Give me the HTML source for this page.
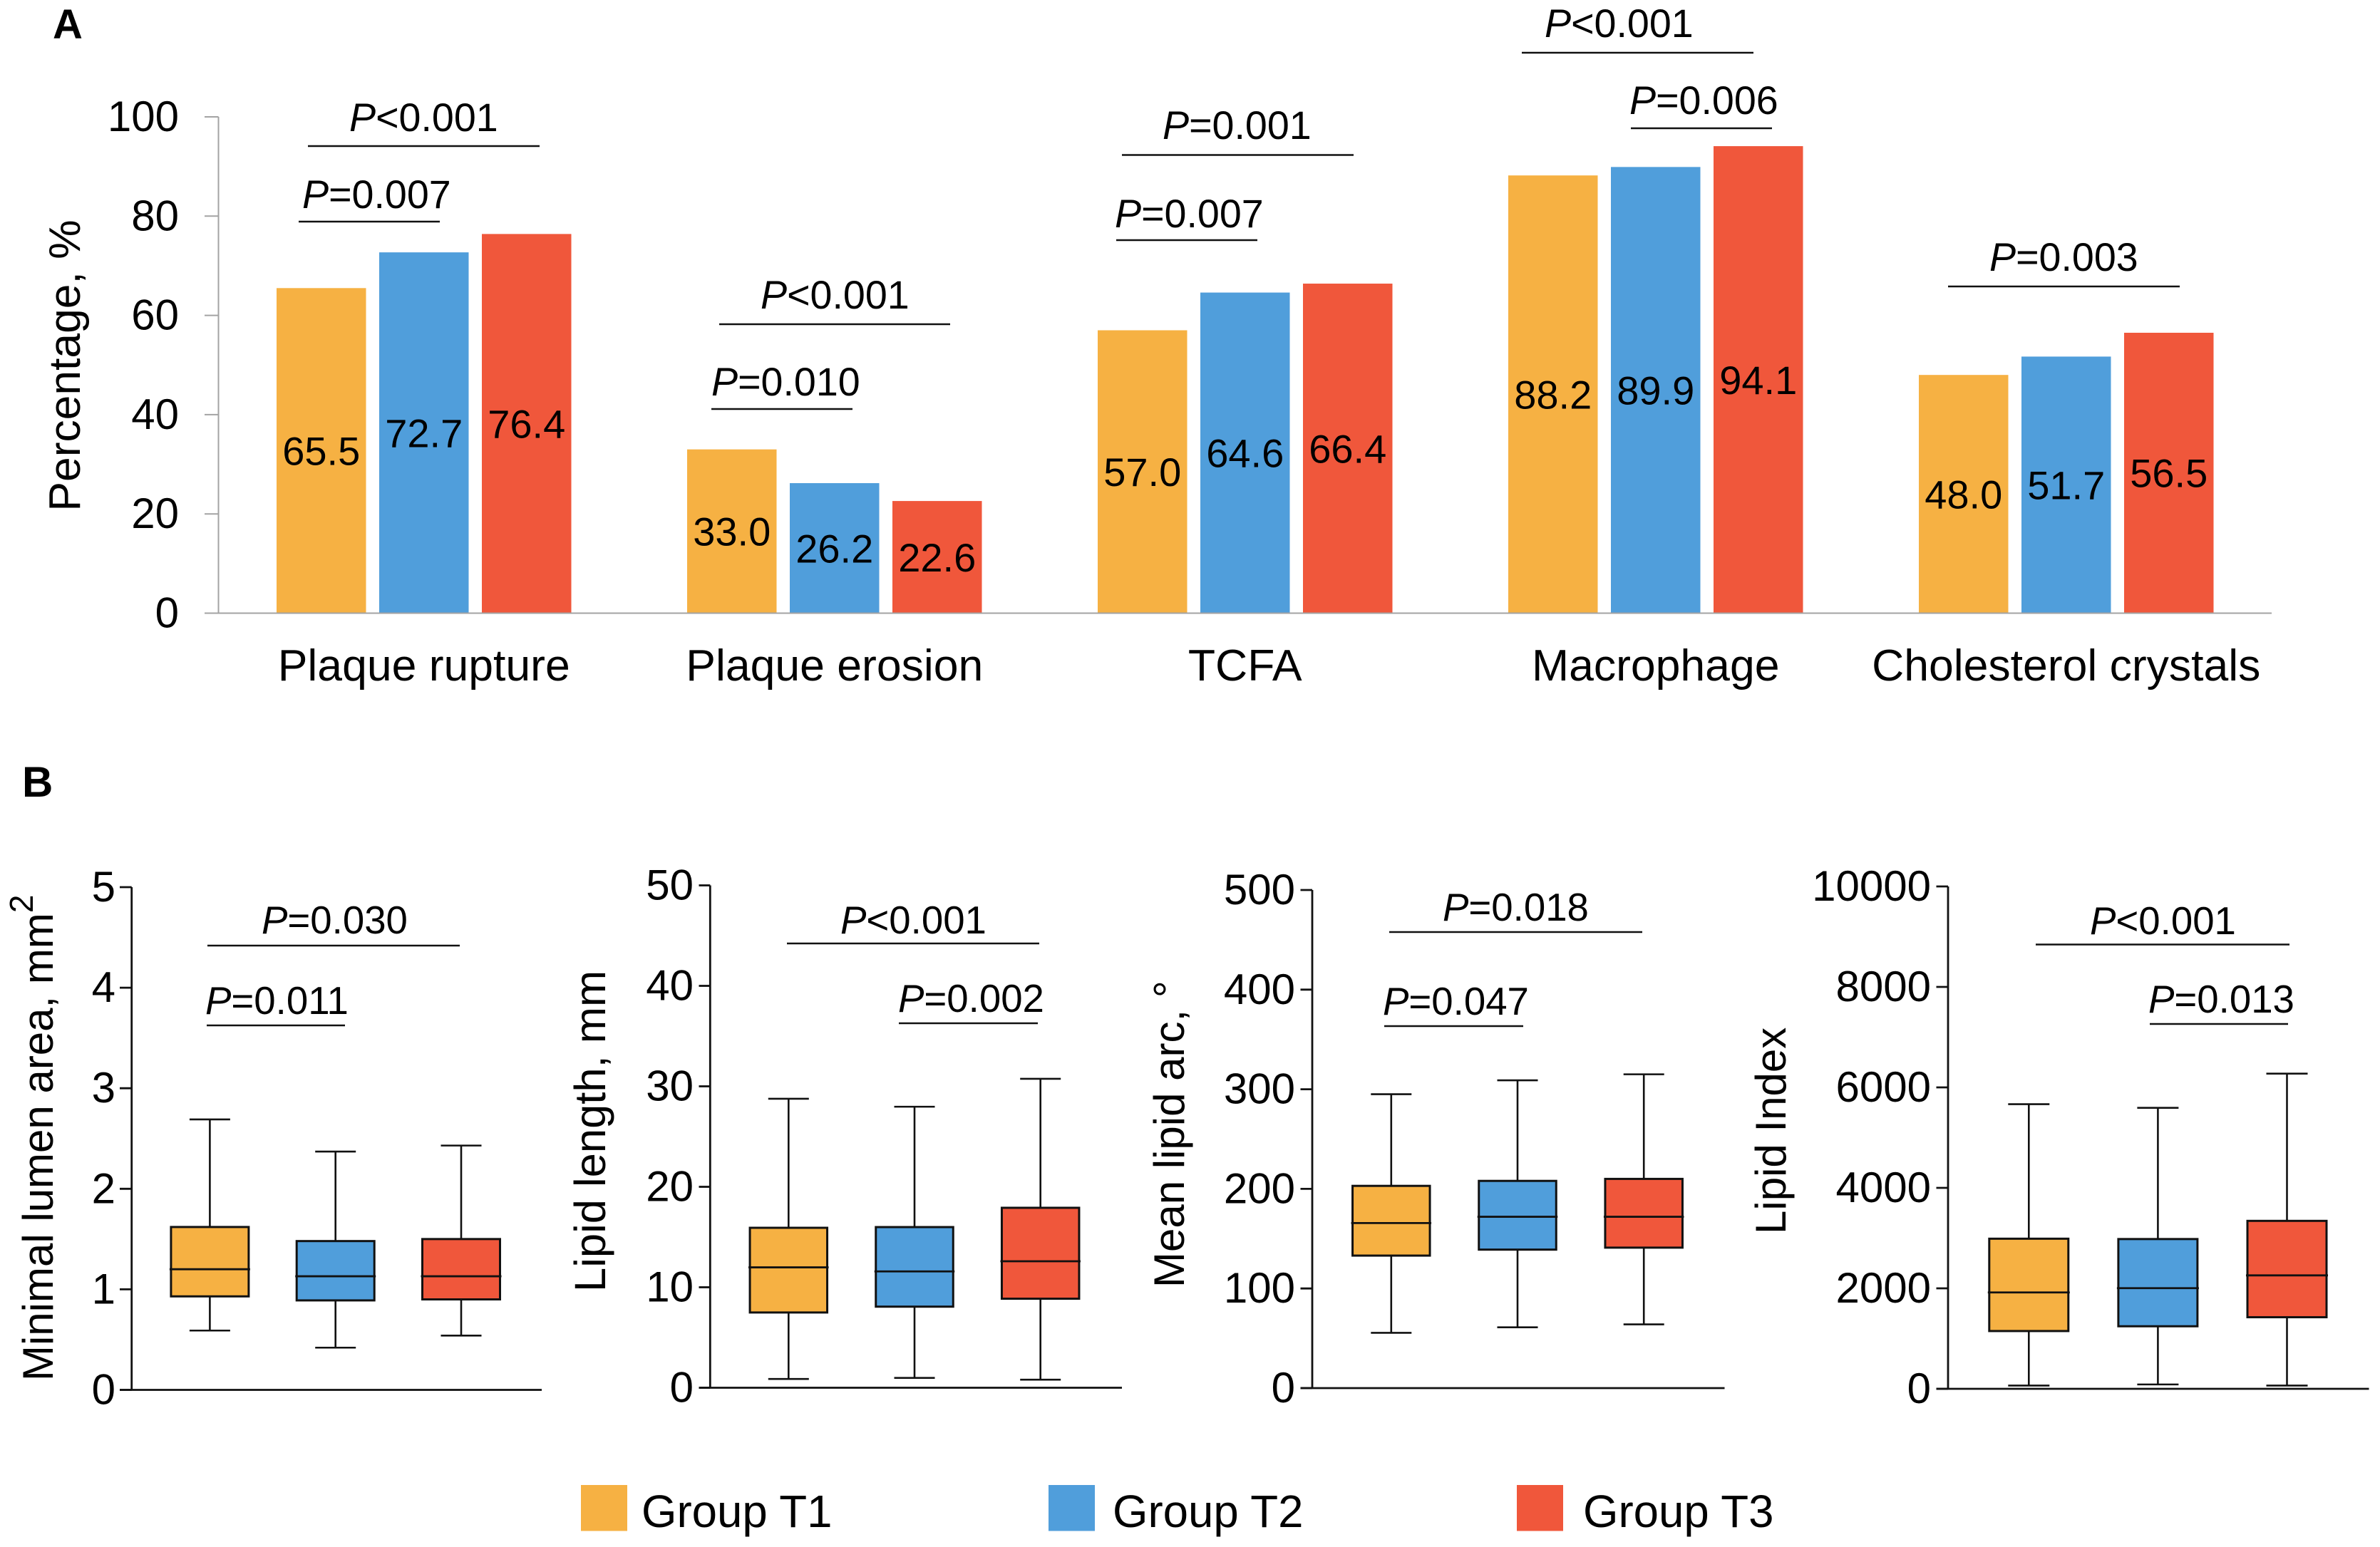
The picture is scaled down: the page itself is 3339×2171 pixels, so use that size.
<!DOCTYPE html>
<html lang="en">
<head>
<meta charset="utf-8">
<title>Plaque characteristics by group</title>
<style>
html,body{margin:0;padding:0;background:#fff;}
svg{display:block;}
text{font-family:"Liberation Sans",Arial,sans-serif;fill:#000;}
.p{font-size:55.6px;}
.pb{font-size:54.6px;}
.pl{font-style:italic;}
.t{font-size:60px;}
.lg{font-size:63.6px;}
.note{stroke:#111;stroke-width:2.4;}
</style>
</head>
<body>
<svg id="fig" xmlns="http://www.w3.org/2000/svg" width="3339" height="2171" viewBox="0 0 3339 2171">
  <rect x="0" y="0" width="3339" height="2171" fill="#fff"/>
  <text x="74" y="54" font-size="58" font-weight="700">A</text>
  <text x="31" y="1118" font-size="60" font-weight="700">B</text>

  <g id="panelA"></g>
  <g id="panelB1"></g>
  <g id="panelB2"></g>
  <g id="panelB3"></g>
  <g id="panelB4"></g>

  <text style="font-size:62.4px" transform="translate(112,513) rotate(-90)" text-anchor="middle">Percentage, %</text>
  <text class="t" transform="translate(74,1938) rotate(-90)">Minimal lumen area, mm<tspan font-size="46" dy="-28">2</tspan></text>
  <text style="font-size:61.5px" transform="translate(849,1813) rotate(-90)">Lipid length, mm</text>
  <text class="t" transform="translate(1661,1807) rotate(-90)">Mean lipid arc, °</text>
  <text class="t" transform="translate(2505,1732) rotate(-90)">Lipid Index</text>

  <g>
    <line class="note" x1="432" x2="757" y1="205" y2="205"/>
    <text class="p" x="490" y="184"><tspan class="pl">P</tspan>&lt;0.001</text>
    <line class="note" x1="419" x2="617" y1="311" y2="311"/>
    <text class="p" x="424" y="292"><tspan class="pl">P</tspan>=0.007</text>
    <line class="note" x1="1009" x2="1333" y1="455" y2="455"/>
    <text class="p" x="1067" y="433"><tspan class="pl">P</tspan>&lt;0.001</text>
    <line class="note" x1="998" x2="1196" y1="574" y2="574"/>
    <text class="p" x="998" y="555"><tspan class="pl">P</tspan>=0.010</text>
    <line class="note" x1="1574" x2="1899" y1="217.5" y2="217.5"/>
    <text class="p" x="1631" y="195"><tspan class="pl">P</tspan>=0.001</text>
    <line class="note" x1="1566" x2="1764" y1="337" y2="337"/>
    <text class="p" x="1564" y="319"><tspan class="pl">P</tspan>=0.007</text>
    <line class="note" x1="2135" x2="2460" y1="74" y2="74"/>
    <text class="p" x="2167" y="52"><tspan class="pl">P</tspan>&lt;0.001</text>
    <line class="note" x1="2288" x2="2486" y1="180" y2="180"/>
    <text class="p" x="2286" y="160"><tspan class="pl">P</tspan>=0.006</text>
    <line class="note" x1="2733" x2="3058" y1="402" y2="402"/>
    <text class="p" x="2791" y="380"><tspan class="pl">P</tspan>=0.003</text>
  </g>

  <g>
    <line class="note" x1="291" x2="645" y1="1327" y2="1327"/>
    <text class="pb" x="367" y="1310"><tspan class="pl">P</tspan>=0.030</text>
    <line class="note" x1="290" x2="484" y1="1439" y2="1439"/>
    <text class="pb" x="288" y="1423"><tspan class="pl">P</tspan>=0.011</text>
    <line class="note" x1="1104" x2="1458" y1="1324" y2="1324"/>
    <text class="pb" x="1179" y="1310"><tspan class="pl">P</tspan>&lt;0.001</text>
    <line class="note" x1="1261" x2="1456" y1="1436" y2="1436"/>
    <text class="pb" x="1260" y="1420"><tspan class="pl">P</tspan>=0.002</text>
    <line class="note" x1="1949" x2="2304" y1="1308" y2="1308"/>
    <text class="pb" x="2024" y="1292"><tspan class="pl">P</tspan>=0.018</text>
    <line class="note" x1="1942" x2="2137" y1="1440" y2="1440"/>
    <text class="pb" x="1940" y="1424"><tspan class="pl">P</tspan>=0.047</text>
    <line class="note" x1="2856" x2="3212" y1="1325.5" y2="1325.5"/>
    <text class="pb" x="2932" y="1311"><tspan class="pl">P</tspan>&lt;0.001</text>
    <line class="note" x1="3016" x2="3210" y1="1437" y2="1437"/>
    <text class="pb" x="3014" y="1421"><tspan class="pl">P</tspan>=0.013</text>
  </g>

  <g>
    <rect x="815" y="2084" width="65" height="64.5" fill="#F6B143"/>
    <text class="lg" x="900" y="2143">Group T1</text>
    <rect x="1471" y="2084" width="65" height="64.5" fill="#509EDB"/>
    <text class="lg" x="1561" y="2143">Group T2</text>
    <rect x="2128" y="2084" width="65" height="64.5" fill="#F0573B"/>
    <text class="lg" x="2221" y="2143">Group T3</text>
  </g>
</svg>

<script>
// Panel A data
const categories = ['Plaque rupture', 'Plaque erosion', 'TCFA', 'Macrophage', 'Cholesterol crystals'];
const groupT1Values = [65.5, 33.0, 57.0, 88.2, 48.0];
const groupT2Values = [72.7, 26.2, 64.6, 89.9, 51.7];
const groupT3Values = [76.4, 22.6, 66.4, 94.1, 56.5];
const percentTicks = [0, 20, 40, 60, 80, 100];

// Panel B data: each box is [low whisker, Q1, median, Q3, high whisker]
const lumenT1 = [0.59, 0.93, 1.20, 1.62, 2.69];
const lumenT2 = [0.42, 0.89, 1.13, 1.48, 2.37];
const lumenT3 = [0.54, 0.90, 1.13, 1.50, 2.43];
const lumenTicks = [0, 1, 2, 3, 4, 5];

const lengthT1 = [0.87, 7.49, 11.98, 15.92, 28.76];
const lengthT2 = [0.98, 8.07, 11.58, 15.99, 27.97];
const lengthT3 = [0.80, 8.86, 12.59, 17.91, 30.75];
const lengthTicks = [0, 10, 20, 30, 40, 50];

const arcT1 = [55.5, 133, 165.7, 203, 295];
const arcT2 = [61, 139, 172, 208, 309];
const arcT3 = [64, 141, 172, 210, 315];
const arcTicks = [0, 100, 200, 300, 400, 500];

const indexT1 = [65, 1150, 1918, 2988, 5666];
const indexT2 = [87, 1245, 2004, 2981, 5593];
const indexT3 = [65, 1425, 2258, 3343, 6274];
const indexTicks = [0, 2000, 4000, 6000, 8000, 10000];

const groupColors = ['#F6B143', '#509EDB', '#F0573B'];
const SVG_NS = 'http://www.w3.org/2000/svg';

function mk(parent, tag, attrs, content) {
  const el = document.createElementNS(SVG_NS, tag);
  for (const key in attrs) el.setAttribute(key, attrs[key]);
  if (content !== undefined) el.textContent = content;
  parent.appendChild(el);
  return el;
}

function drawPanelA() {
  const g = document.getElementById('panelA');
  const axisLeft = 306.5, axisTop = 164, axisBottom = 860.5, axisRight = 3187, tickLeft = 287;
  const firstBar = 388, groupStep = 576, barStep = 144, barWidth = 125.5;
  const axisColor = '#a3a3a3';
  const yScale = v => axisBottom - (v / 100) * (axisBottom - axisTop);
  const xScale = (c, s) => firstBar + c * groupStep + s * barStep;
  const seriesList = [groupT1Values, groupT2Values, groupT3Values];

  seriesList.forEach((values, s) => {
    values.forEach((v, c) => {
      const bar = mk(g, 'rect', {x: xScale(c, s), y: yScale(v), width: barWidth, height: axisBottom - yScale(v), fill: groupColors[s]});
      
      
      const label = mk(g, 'text', {x: xScale(c, s) + barWidth / 2, y: yScale(v / 2) + 20, 'text-anchor': 'middle', 'font-size': 56}, v.toFixed(1));
      
      
    });
  });

  const yAxis = mk(g, 'line', {x1: axisLeft, x2: axisLeft, y1: axisTop, y2: axisBottom, stroke: axisColor, 'stroke-width': 2});
  
  
  const xAxis = mk(g, 'line', {x1: tickLeft, x2: axisRight, y1: axisBottom, y2: axisBottom, stroke: axisColor, 'stroke-width': 2});
  
  

  percentTicks.forEach(t => {
    const tick = mk(g, 'line', {x1: tickLeft, x2: axisLeft, y1: yScale(t), y2: yScale(t), stroke: axisColor, 'stroke-width': 2});
    
    
    const label = mk(g, 'text', {x: 251, y: yScale(t) + 20, 'text-anchor': 'end', 'font-size': 60}, String(t));
    
    
  });

  categories.forEach((name, c) => {
    const label = mk(g, 'text', {x: xScale(c, 1) + barWidth / 2, y: 955, 'text-anchor': 'middle', 'font-size': 62.5}, name);
    
    
  });
}

function drawBoxPanel(id, boxes, ticks, axisLeft, axisTop, axisBottom, axisRight, tickLeft, labelRight, firstCenter, step, boxWidth, capWidth) {
  const g = document.getElementById(id);
  const maxTick = ticks[ticks.length - 1];
  const yScale = v => axisBottom - (v / maxTick) * (axisBottom - axisTop);
  const xScale = i => firstCenter + i * step;
  const ink = '#111';

  boxes.forEach((box, i) => {
    const low = box[0], q1 = box[1], med = box[2], q3 = box[3], high = box[4];
    const cx = xScale(i);
    const whisker = mk(g, 'line', {x1: cx, x2: cx, y1: yScale(high), y2: yScale(low), stroke: ink, 'stroke-width': 2.6});
    
    
    const capHigh = mk(g, 'line', {x1: cx - capWidth / 2, x2: cx + capWidth / 2, y1: yScale(high), y2: yScale(high), stroke: ink, 'stroke-width': 2.6});
    
    
    const capLow = mk(g, 'line', {x1: cx - capWidth / 2, x2: cx + capWidth / 2, y1: yScale(low), y2: yScale(low), stroke: ink, 'stroke-width': 2.6});
    
    
    const rect = mk(g, 'rect', {x: cx - boxWidth / 2, y: yScale(q3), width: boxWidth, height: yScale(q1) - yScale(q3), fill: groupColors[i], stroke: ink, 'stroke-width': 3});
    
    
    const median = mk(g, 'line', {x1: cx - boxWidth / 2 - 2, x2: cx + boxWidth / 2 + 2, y1: yScale(med), y2: yScale(med), stroke: ink, 'stroke-width': 2.8});
    
    
  });

  const yAxis = mk(g, 'line', {x1: axisLeft, x2: axisLeft, y1: axisTop, y2: axisBottom + 1, stroke: ink, 'stroke-width': 2.8});
  
  
  const xAxis = mk(g, 'line', {x1: tickLeft, x2: axisRight, y1: axisBottom, y2: axisBottom, stroke: ink, 'stroke-width': 2.8});
  
  

  ticks.forEach(t => {
    const tick = mk(g, 'line', {x1: tickLeft, x2: axisLeft, y1: yScale(t), y2: yScale(t), stroke: ink, 'stroke-width': 2.8});
    
    
    const label = mk(g, 'text', {x: labelRight, y: yScale(t) + 20, 'text-anchor': 'end', 'font-size': 60}, String(t));
    
    
  });
}

drawPanelA();
drawBoxPanel('panelB1', [lumenT1, lumenT2, lumenT3], lumenTicks, 184.7, 1245, 1950.5, 760, 168, 162, 294.4, 176.3, 109, 57);
drawBoxPanel('panelB2', [lengthT1, lengthT2, lengthT3], lengthTicks, 996.3, 1242.5, 1947.5, 1574, 980.5, 973, 1106.3, 176.7, 108.5, 57);
drawBoxPanel('panelB3', [arcT1, arcT2, arcT3], arcTicks, 1841, 1249, 1948, 2419.5, 1824.5, 1817, 1951.8, 177.2, 108.5, 57);
drawBoxPanel('panelB4', [indexT1, indexT2, indexT3], indexTicks, 2733, 1244, 1949, 3323.5, 2716.5, 2709, 2846.3, 181.1, 111, 58);
</script>
</body>
</html>
